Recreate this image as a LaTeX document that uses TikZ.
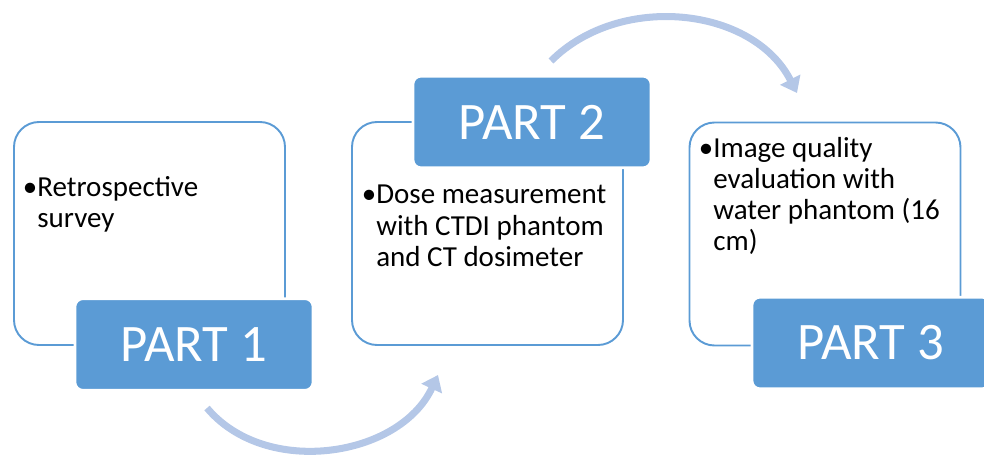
\documentclass[tikz,border=0pt]{standalone}
\usepackage{fontspec}
\setmainfont{Carlito}
\usetikzlibrary{arrows.meta}

\begin{document}
\begin{tikzpicture}[
    outlinebox/.style={rectangle, rounded corners=0.5cm, draw=partdraw, line width=1.1pt, minimum width=5.42cm, minimum height=4.46cm},
    partbox/.style={rectangle, rounded corners=0.16cm, fill=partfill, draw=white, line width=1.5pt, minimum width=4.76cm, minimum height=1.83cm, text=white, font=\fontsize{30}{36}\selectfont},
    itemtext/.style={anchor=base west, align=left, inner sep=0pt, font=\fontsize{16.5}{17.8}\selectfont},
    flowarrow/.style={line width=4pt, draw=arrowcol, -{Triangle[width=0.44cm, length=0.3cm]}}
]

% Colors
\definecolor{partfill}{RGB}{91,155,213}
\definecolor{partdraw}{RGB}{91,155,213}
\definecolor{arrowcol}{RGB}{180,199,231}

\useasboundingbox (0,0) rectangle (19.68,9.26);

% Outline boxes
\node[outlinebox] (box1) at (2.99,4.59) {};
\node[outlinebox] (box2) at (9.75,4.59) {};
\node[outlinebox] (box3) at (16.50,4.58) {};

% Box texts (anchored at the baseline of the last line)
\node[itemtext] (txt1) at (0.74,4.71)
    {\llap{\textbullet}Retrospective\\survey};
\node[itemtext] (txt2) at (7.52,3.93)
    {\llap{\textbullet}Dose measurement\\with CTDI phantom\\and CT dosimeter};
\node[itemtext] (txt3) at (14.26,4.24)
    {\llap{\textbullet}Image quality\\evaluation with\\water phantom (16\\cm)};

% Part labels
\node[partbox] (part1) at (3.88,2.37) {PART 1};
\node[partbox] (part2) at (10.64,6.82) {PART 2};
\node[partbox] (part3) at (17.42,2.40) {PART 3};

% Arrows between parts
\coordinate (a1) at (4.14,1.10);
\coordinate (b1) at (8.76,1.76);
\coordinate (a2) at (11.02,8.04);
\coordinate (b2) at (15.94,7.40);
\draw[flowarrow] (a1) to[out=-50, in=-115] (b1);
\draw[flowarrow] (a2) to[out=45, in=117] (b2);

\end{tikzpicture}
\end{document}
